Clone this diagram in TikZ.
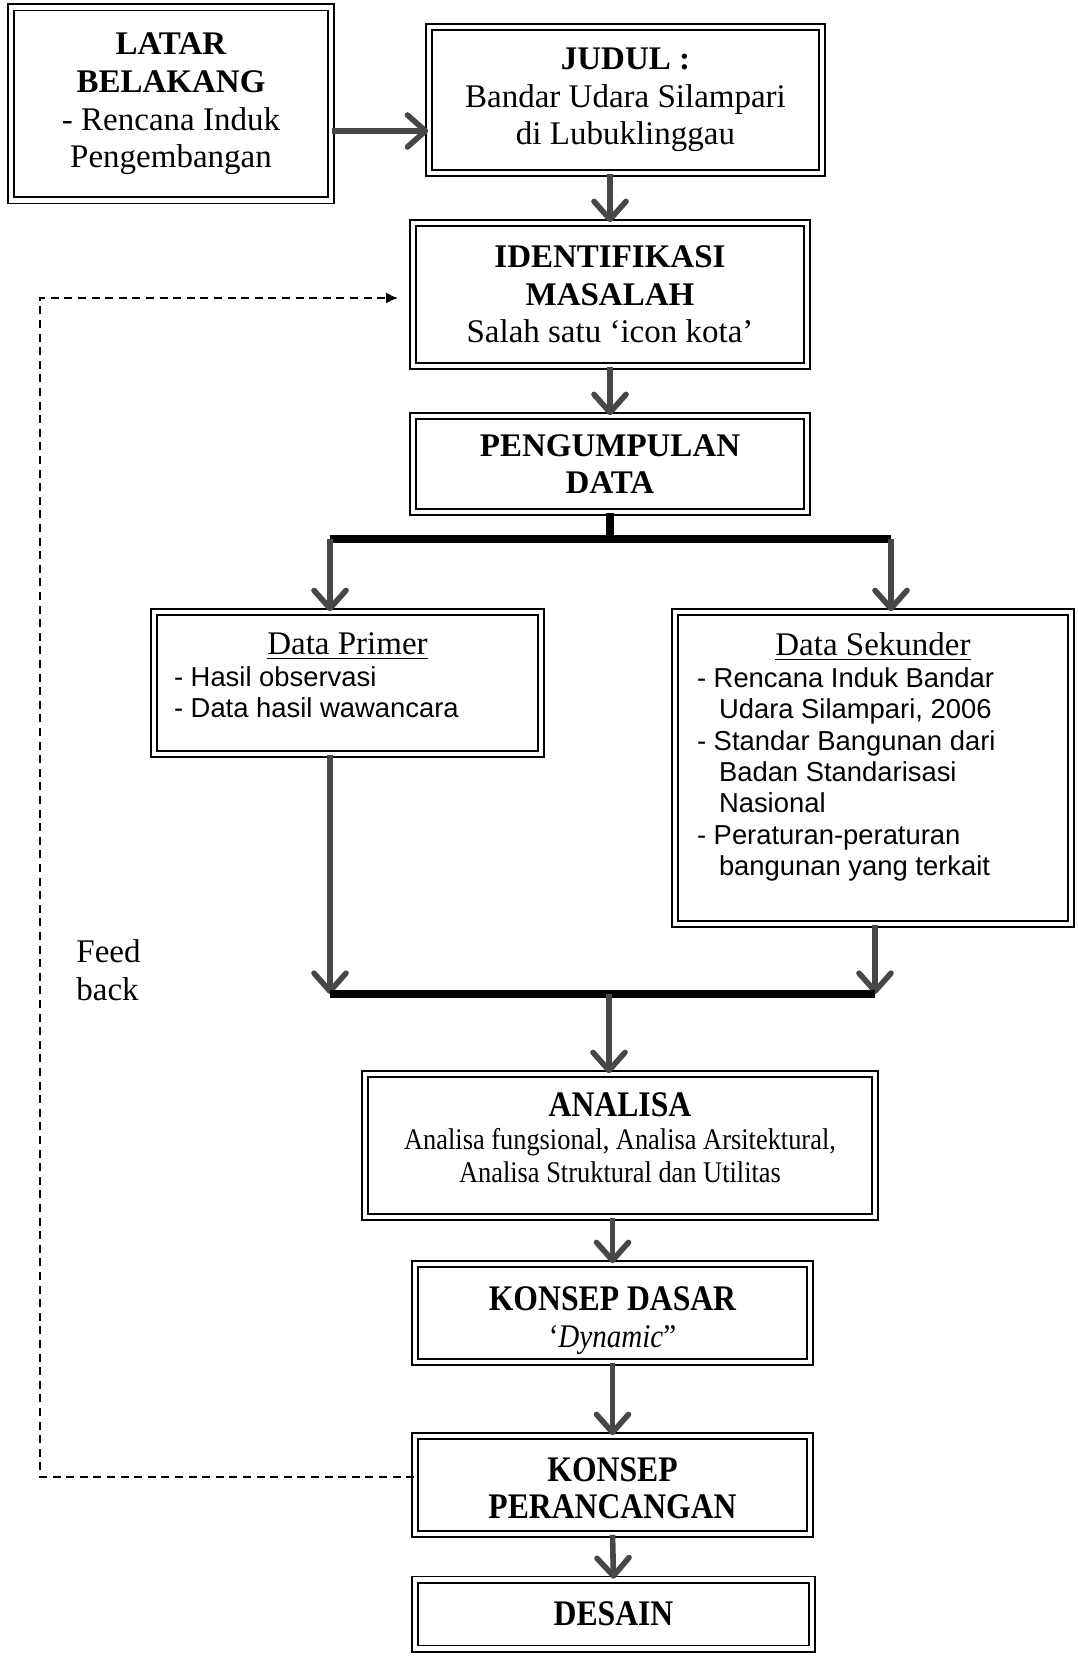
\documentclass[tikz,border=0pt]{standalone}
\usepackage{fontspec}
\setmainfont{Liberation Serif}
\setsansfont{Liberation Sans}
\newfontfamily\sempit{Liberation Serif}[FakeStretch=0.88]
\usetikzlibrary{arrows.meta, calc}

\newcommand{\butir}[1]{\par\hangindent=11pt\hangafter=1 - #1}

\begin{document}
\begin{tikzpicture}[x=0.5pt, y=-0.5pt,
    kotak/.style={draw, double, double distance=2.4pt, line width=0.8pt, align=center, inner sep=0pt, font=\fontsize{16.5}{18.8}\selectfont},
    kotakbawah/.style={kotak, font=\sempit\bfseries\fontsize{18}{18.5}\selectfont},
    panah/.style={draw=black!72, line width=2.8pt, -{Straight Barb[length=9pt,width=16pt,round]}},
    batang/.style={line width=3.6pt, black},
    balik/.style={dash pattern=on 4pt off 2.8pt, line width=1.25pt, -{Latex[length=6pt,width=5.5pt]}}]
        \useasboundingbox (0,0) rectangle (1077,1657);

        \node[kotak, minimum width=160pt, minimum height=96.5pt] (latar) at (171,104) {\textbf{LATAR}\\\textbf{BELAKANG}\\- Rencana Induk\\Pengembangan};
        \node[kotak, minimum width=196.5pt, minimum height=73pt] (judul) at (625.5,100) {\textbf{JUDUL :}\\Bandar Udara Silampari\\di Lubuklinggau};
        \node[kotak, minimum width=197pt, minimum height=71.5pt] (ident) at (610,294.5) {\textbf{IDENTIFIKASI}\\\textbf{MASALAH}\\Salah satu ‘icon kota’};
        \node[kotak, minimum width=197pt, minimum height=48pt] (pengum) at (610,464) {\textbf{PENGUMPULAN}\\\textbf{DATA}};

        \node[kotak, minimum width=193.5pt, minimum height=71pt] (primer) at (347.5,683) {\parbox[c][50pt][t]{173.5pt}{{\centering\underline{Data Primer}\par}\sffamily\fontsize{13.7}{15.7}\selectfont
            \butir{Hasil observasi}
            \butir{Data hasil wawancara}}};
        \node[kotak, minimum width=198pt, minimum height=156pt] (sekunder) at (873,768) {\parbox[c][135pt][t]{176pt}{{\centering\underline{Data Sekunder}\par}\sffamily\fontsize{13.7}{15.7}\selectfont
            \butir{Rencana Induk Bandar\newline Udara Silampari, 2006}
            \butir{Standar Bangunan dari\newline Badan Standarisasi\newline Nasional}
            \butir{Peraturan-peraturan\newline bangunan yang terkait}}};

        \node[kotak, minimum width=255pt, minimum height=71.5pt, font=\sempit\fontsize{15}{16.5}\selectfont] (analisa) at (620,1145.5) {{\bfseries\fontsize{18}{20}\selectfont ANALISA}\\Analisa fungsional, Analisa Arsitektural,\\Analisa Struktural dan Utilitas\rule[-8pt]{0pt}{8pt}};
        \node[kotakbawah, minimum width=197.5pt, minimum height=49pt] (dasar) at (612.5,1313) {\rule{0pt}{20pt}KONSEP DASAR\\{\mdseries\fontsize{16.5}{18.5}\selectfont‘\textit{Dynamic}”}};
        \node[kotakbawah, minimum width=197.5pt, minimum height=49pt] (rancang) at (612.5,1485) {\rule{0pt}{15pt}KONSEP\\PERANCANGAN};
        \node[kotakbawah, minimum width=198.5pt, minimum height=34.5pt] (desain) at (613.5,1614) {DESAIN};

        \node[anchor=west, align=left, inner sep=0pt, font=\fontsize{16.5}{19}\selectfont] (fbteks) at (76,970) {Feed\\back};

        \coordinate (pisahL) at (330,539);
        \coordinate (pisahR) at (891,539);
        \coordinate (gabungL) at (330,994);
        \coordinate (gabungR) at (875,994);
        \coordinate (gabung) at (609,994);
        \coordinate (fbsudut) at (40,298);

        \draw[panah] (latar.east |- 0,131) -- (judul.west |- 0,131);
        \draw[panah] (ident.north |- judul.south) -- (ident.north);
        \draw[panah] (ident.south) -- (pengum.north);

        \draw[batang] (pengum.south) -- (pengum.south |- pisahL);
        \draw[batang] (pisahL) -- (pisahR);
        \draw[panah] (pisahL) -- (pisahL |- primer.north);
        \draw[panah] (pisahR) -- (pisahR |- sekunder.north);

        \draw[panah] (gabungL |- primer.south) -- (gabungL);
        \draw[panah] (gabungR |- sekunder.south) -- (gabungR);
        \draw[batang] (gabungL) -- (gabungR);
        \draw[panah] (gabung) -- (gabung |- analisa.north);

        \draw[panah] (dasar.north |- analisa.south) -- (dasar.north);
        \draw[panah] (dasar.south) -- (rancang.north);
        \draw[panah] (rancang.south) -- (desain.north);

        \draw[balik] ([yshift=4pt]rancang.west) -| (fbsudut) -- ([xshift=-7pt]ident.west |- fbsudut);
\end{tikzpicture}
\end{document}
